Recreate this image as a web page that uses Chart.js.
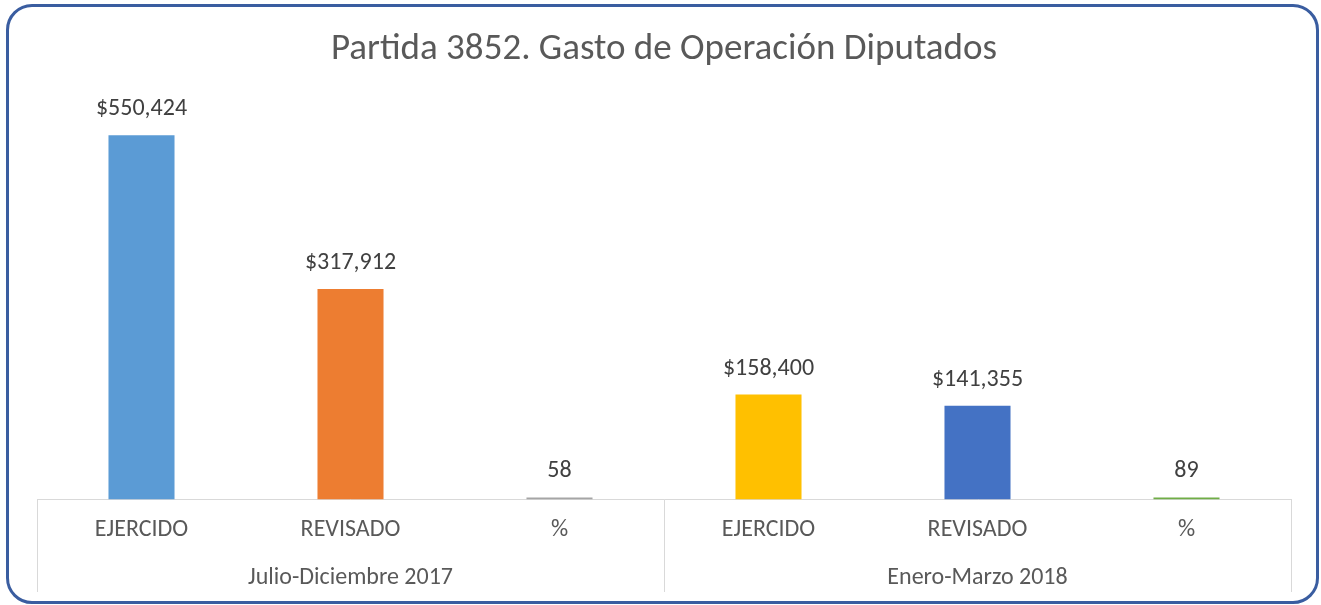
<!DOCTYPE html>
<html>
<head>
<meta charset="utf-8">
<script src="https://cdn.jsdelivr.net/npm/chart.js@4"></script>
<style>
	html, body { margin: 0; padding: 0; background: #fff; }
	.caja {
		position: absolute; left: 6px; top: 4px;
		width: 1307px; height: 594px;
		border: 3px solid #3A5DA0; border-radius: 26px;
		background: #fff;
		overflow: hidden;
	}
	canvas { display: block; }
</style>
</head>
<body>
<div class="caja"><canvas id="chart" width="1307" height="594"></canvas></div>
<script>
const titulo = 'Partida 3852. Gasto de Operación Diputados';
const conceptos = ['EJERCIDO', 'REVISADO', '%', 'EJERCIDO', 'REVISADO', '%'];
const periodos = ['Julio-Diciembre 2017', 'Enero-Marzo 2018'];
const valores = [550424, 317912, 58, 158400, 141355, 89];
const colores = ['#5B9BD5', '#ED7D31', '#A5A5A5', '#FFC000', '#4472C4', '#70AD47'];

const fuente = "Carlito, Calibri, 'Liberation Sans Narrow', 'Noto Sans', sans-serif";

function etiqueta(i) {
	if (conceptos[i] == '%') return String(valores[i]);
	return '$' + valores[i].toLocaleString('en-US');
}

// etiquetas encima de cada barra
const etiquetasPlugin = {
	id: 'etiquetas',
	afterDatasetsDraw(chart) {
		const ctx = chart.ctx;
		const meta = chart.getDatasetMeta(0);
		ctx.save();
		ctx.font = '24px ' + fuente;
		ctx.fillStyle = '#404040';
		ctx.textAlign = 'center';
		ctx.textBaseline = 'middle';
		meta.data.forEach((bar, i) => {
			ctx.fillText(etiqueta(i), bar.x, bar.y - 26);
		});
		ctx.restore();
	}
};

// lineas que separan los periodos
const separadoresPlugin = {
	id: 'separadores',
	afterDraw(chart) {
		const x = chart.scales.x;
		const x2 = chart.scales.x2;
		const ctx = chart.ctx;
		const mitad = (x.getPixelForValue(2) + x.getPixelForValue(3)) / 2;
		ctx.save();
		ctx.strokeStyle = '#D9D9D9';
		ctx.lineWidth = 1;
		[x.left, mitad, x.right].forEach(px => {
			px = Math.round(px) + 0.5;
			ctx.beginPath();
			ctx.moveTo(px, chart.chartArea.bottom);
			ctx.lineTo(px, x2.bottom - 3);
			ctx.stroke();
		});
		ctx.restore();
	}
};

let chart = new Chart(
	document.getElementById('chart'),
	{
		type: 'bar',
		data: {
			labels: conceptos,
			datasets: [
				{
					data: valores,
					backgroundColor: colores,
					barPercentage: 0.316,
					categoryPercentage: 1,
					minBarLength: 2
				}
			]
		},
		options: {
			responsive: false,
			animation: false,
			layout: { padding: { left: 28, right: 25, top: 4, bottom: 6 } },
			plugins: {
				legend: { display: false },
				tooltip: { enabled: false },
				title: {
					display: true,
					text: titulo,
					color: '#595959',
					font: { family: fuente, size: 37, weight: 'normal' },
					padding: { top: 17, bottom: 30 }
				}
			},
			scales: {
				x: {
					grid: { display: true, drawOnChartArea: false, drawTicks: false, color: 'rgba(0,0,0,0)' },
					border: { display: true, color: '#D9D9D9', width: 1 },
					ticks: { color: '#595959', font: { family: fuente, size: 24 }, padding: 16 }
				},
				x2: {
					type: 'category',
					labels: periodos,
					position: 'bottom',
					offset: true,
					grid: { display: false, drawTicks: false },
					border: { display: false },
					ticks: { color: '#595959', font: { family: fuente, size: 24 }, padding: 3 }
				},
				y: {
					display: false,
					min: 0,
					max: 600000
				}
			}
		},
		plugins: [etiquetasPlugin, separadoresPlugin]
	}
);
</script>
</body>
</html>
